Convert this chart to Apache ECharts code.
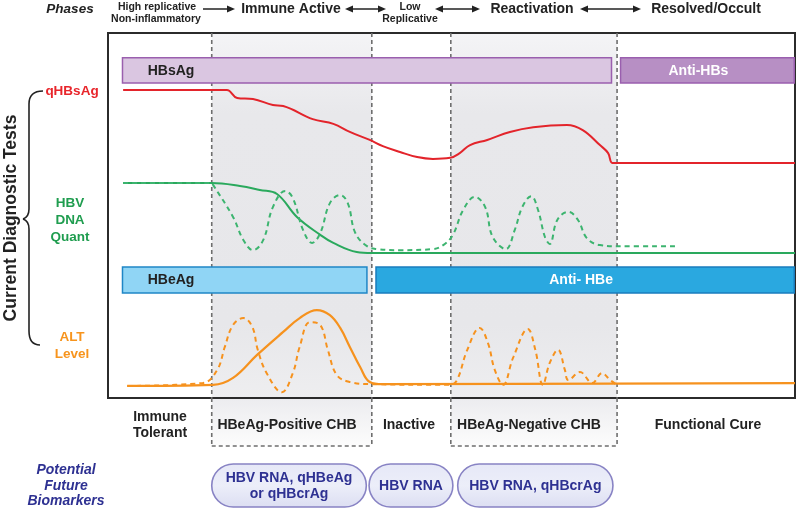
<!DOCTYPE html>
<html><head><meta charset="utf-8">
<script src="https://cdn.jsdelivr.net/npm/echarts@6/dist/echarts.min.js"></script>
<style>html,body{margin:0;padding:0;background:#fff}#c{width:800px;height:515px}</style>
</head><body><div id="c"></div>
<script>
// ---------- data (x: disease time course 0..100 across the panel, y: relative level 0..100) ----------
const phaseBoundaries = [15.1, 38.4, 49.9, 74.1];
const shadedPhases = [[15.1, 38.4], [49.9, 74.1]];

const testBarNames = ['HBsAg', 'Anti-HBs', 'HBeAg', 'Anti- HBe'];
const testBarSpans = [[2.0, 73.4, 86.3, 93.2], [74.5, 100, 86.3, 93.2], [2.0, 37.8, 28.8, 35.9], [38.9, 100, 28.8, 35.9]];

const qHBsAg = [[2.2,84.4],[15.1,84.4],[17.3,84.4],[18.8,82.2],[21.1,81.9],[24.0,80.3],[25.5,80.0],[29.8,76.4],[32.8,75.1],[35.2,72.9],[38.1,70.7],[40.0,69.0],[42.5,67.4],[45.0,66.0],[47.3,65.5],[49.8,65.8],[51.2,67.1],[52.7,69.3],[55.2,70.7],[58.5,72.9],[61.9,74.2],[66.8,74.8],[69.1,73.4],[71.6,69.3],[72.8,67.1],[73.4,64.4],[74.5,64.4],[100,64.4]];

const hbvDnaSolid = [[2.2,58.9],[15.1,58.9],[19.2,58.1],[22.1,57.0],[24.6,55.9],[27.5,49.6],[30.9,44.7],[32.8,42.5],[36.2,40.0],[38.4,39.7],[100,39.7]];

const hbvDnaDashed = [[2.2,58.9],[15.1,58.9],[15.3,58.4],[18.2,49.6],[19.7,43.3],[21.1,40.5],[22.6,43.3],[24.0,52.3],[25.8,56.7],[26.9,54.8],[28.4,46.0],[29.7,42.5],[30.9,45.2],[32.3,53.4],[33.8,55.6],[34.9,53.4],[36.0,45.2],[37.7,41.6],[39.2,40.8],[42.5,40.5],[47.3,40.8],[48.8,41.9],[50.2,44.7],[51.7,51.5],[53.4,55.1],[54.9,52.3],[56.0,44.1],[57.9,40.8],[59.2,46.0],[60.3,52.3],[61.6,55.3],[62.6,51.5],[63.6,44.1],[64.3,42.2],[65.4,48.8],[67.0,51.0],[68.4,48.8],[69.7,43.8],[71.6,41.9],[74.1,41.6],[82.8,41.6]];

const altSolid = [[2.8,3.3],[15.3,3.6],[18.2,5.5],[21.7,11.8],[25.5,18.1],[27.9,21.9],[30.4,24.1],[32.3,22.7],[33.8,19.2],[35.2,14.0],[36.7,8.5],[38.1,4.4],[40.0,3.8],[100,4.1]];

const altDashed = [[2.8,3.3],[13.8,4.1],[15.9,7.7],[17.0,14.0],[18.2,20.0],[19.7,21.9],[21.0,19.5],[21.8,13.2],[23.1,6.8],[25.3,1.6],[26.9,6.8],[27.9,14.0],[29.4,20.8],[30.9,20.0],[32.0,13.2],[33.3,6.3],[35.2,4.4],[38.4,3.8],[49.8,3.6],[50.8,4.9],[52.3,13.2],[54.1,19.2],[55.3,15.1],[56.3,7.7],[57.5,3.6],[59.0,11.2],[61.1,18.9],[62.2,13.2],[63.3,3.6],[64.3,9.6],[65.5,13.2],[66.5,7.7],[67.0,4.9],[68.7,7.1],[70.5,4.1],[71.9,6.8],[73.1,4.9],[74.1,3.6]];

const biomarkerTexts = ['HBV RNA, qHBeAg\nor qHBcrAg', 'HBV RNA', 'HBV RNA, qHBcrAg'];
const biomarkerSpans = [[15.1, 37.6], [38.0, 50.2], [50.9, 73.5]];

// ---------- styles ----------
const FF = '"Liberation Sans", Arial, Helvetica, sans-serif';
const barStyles = [
  {fill:'#dac6e1', stroke:'#9a5fae', color:'#222', align:'left'},
  {fill:'#b78fc4', stroke:'#9a5fae', color:'#fff', align:'center', dx:-9},
  {fill:'#90d5f5', stroke:'#1f86c6', color:'#222', align:'left'},
  {fill:'#2aa8e0', stroke:'#1a7cbd', color:'#fff', align:'center', dx:-4}
];
const RED = '#e3242b', GREEN = '#2aa95d', GREEN_D = '#3cb46f', ORANGE = '#f6921e', NAVY = '#2e3192';

const chart = echarts.init(document.getElementById('c'), null, {renderer:'canvas'});

function linGrad(stops) {
  return {type:'linear', x:0, y:0, x2:0, y2:1, colorStops:stops, global:false};
}
function renderBar(params, api) {
  const i = params.dataIndex;
  const p0 = api.coord([api.value(0), api.value(3)]);
  const p1 = api.coord([api.value(1), api.value(2)]);
  const st = barStyles[i];
  const w = p1[0] - p0[0], h = p1[1] - p0[1];
  const tx = st.align === 'left' ? p0[0] + 26 : p0[0] + w / 2 + st.dx;
  return {type:'group', children:[
    {type:'rect', shape:{x:p0[0] + 0.75, y:p0[1], width:w - 1.5, height:h}, style:{fill:st.fill, stroke:st.stroke, lineWidth:1.5}},
    {type:'text', style:{text:testBarNames[i], x:tx, y:p0[1] + h / 2 + 0.5, fill:st.color, font:'bold 14px ' + FF, align:st.align, verticalAlign:'middle', textAlign:st.align, textVerticalAlign:'middle'}}
  ]};
}
const mainShade = linGrad([
  {offset:0, color:'#f4f4f6'}, {offset:0.22, color:'#e8e8eb'}, {offset:0.8, color:'#e7e7ea'}, {offset:1, color:'#eeeef0'}]);
const lowShade = linGrad([
  {offset:0, color:'#ececef'}, {offset:1, color:'#fcfcfc'}]);
function renderZone(shade, withBottom) {
  return function (params, api) {
    const a = api.coord([api.value(0), 0]);
    const b = api.coord([api.value(1), 0]);
    const cs = params.coordSys;
    const ch = [{type:'rect', shape:{x:a[0], y:cs.y + 1, width:b[0] - a[0], height:cs.height - 2}, style:{fill:shade}}];
    if (withBottom) ch.push({type:'line', shape:{x1:a[0], y1:cs.y + cs.height, x2:b[0], y2:cs.y + cs.height}, style:{stroke:'#6e6e6e', lineWidth:1.6, lineDash:[4, 3]}});
    return {type:'group', children:ch};
  };
}
function renderBoundary(params, api) {
  const a = api.coord([api.value(0), 0]);
  const cs = params.coordSys;
  return {type:'line', shape:{x1:a[0], y1:cs.y, x2:a[0], y2:cs.y + cs.height}, style:{stroke:'#6e6e6e', lineWidth:1.6, lineDash:[4, 3]}};
}
function renderPill(params, api) {
  const i = params.dataIndex;
  const a = api.coord([api.value(0), 0]);
  const b = api.coord([api.value(1), 0]);
  const cs = params.coordSys;
  const w = b[0] - a[0];
  return {type:'group', children:[
    {type:'rect', shape:{x:a[0], y:cs.y, width:w, height:cs.height, r:cs.height / 2},
     style:{fill:linGrad([{offset:0, color:'#e6e8f7'}, {offset:0.5, color:'#eceef9'}, {offset:1, color:'#dcdef2'}]), stroke:'#8883c4', lineWidth:1.6}},
    {type:'text', style:{text:biomarkerTexts[i], x:a[0] + w / 2, y:cs.y + cs.height / 2 + 1, fill:NAVY, font:'bold 14px ' + FF, lineHeight:16, align:'center', verticalAlign:'middle', textAlign:'center', textVerticalAlign:'middle'}}
  ]};
}
function lineSeries(name, data, color, dashed, width) {
  return {type:'line', name, data, xAxisIndex:0, yAxisIndex:0, symbol:'none', showSymbol:false, smooth:0.4, z:5, silent:true,
    lineStyle:{color, width, type:dashed ? [5, 4] : 'solid'}};
}

function txt(x, y, text, size, color, o) {
  o = o || {};
  return {type:'text', x, y, rotation:o.rot || 0, z:100, silent:true,
    style:{text, fill:color, font:(o.italic ? 'italic ' : '') + 'bold ' + size + 'px ' + FF, lineHeight:o.lh || size + 2,
      align:'center', verticalAlign:'middle', textAlign:'center', textVerticalAlign:'middle'}};
}
function arrow(x1, x2, y, both) {
  const els = [{type:'line', z:100, shape:{x1:x1 + (both ? 4 : 0), y1:y, x2:x2 - 4, y2:y}, style:{stroke:'#222', lineWidth:1.5}}];
  els.push({type:'polygon', z:100, shape:{points:[[x2, y], [x2 - 8, y - 3.6], [x2 - 8, y + 3.6]]}, style:{fill:'#222'}});
  if (both) els.push({type:'polygon', z:100, shape:{points:[[x1, y], [x1 + 8, y - 3.6], [x1 + 8, y + 3.6]]}, style:{fill:'#222'}});
  return els;
}
const braceStyle = {stroke:'#222', lineWidth:1.6, fill:null};
const brace = [
  {type:'bezierCurve', z:100, shape:{x1:43, y1:91, x2:29, y2:104, cpx1:29, cpy1:91}, style:braceStyle},
  {type:'line', z:100, shape:{x1:29, y1:104, x2:29, y2:209}, style:braceStyle},
  {type:'bezierCurve', z:100, shape:{x1:29, y1:209, x2:23, y2:219, cpx1:29, cpy1:217}, style:braceStyle},
  {type:'bezierCurve', z:100, shape:{x1:23, y1:219, x2:29, y2:229, cpx1:29, cpy1:221}, style:braceStyle},
  {type:'line', z:100, shape:{x1:29, y1:229, x2:29, y2:331}, style:braceStyle},
  {type:'bezierCurve', z:100, shape:{x1:29, y1:331, x2:40, y2:345, cpx1:29, cpy1:345}, style:braceStyle}
];

const graphics = [].concat(
  [txt(70, 9, 'Phases', 13.5, '#222', {italic:true}),
   txt(157, 7, 'High replicative', 10.5, '#222'),
   txt(156, 19, 'Non-inflammatory', 10.5, '#222')],
  arrow(203, 235, 9, false),
  [txt(291, 9, 'Immune Active', 14, '#222')],
  arrow(345, 386, 9, true),
  [txt(410, 7, 'Low', 10.5, '#222'), txt(410, 19, 'Replicative', 10.5, '#222')],
  arrow(435, 480, 9, true),
  [txt(532, 9, 'Reactivation', 14, '#222')],
  arrow(580, 641, 9, true),
  [txt(706, 9, 'Resolved/Occult', 14, '#222'),
   txt(72, 91, 'qHBsAg', 13.5, '#e8252b'),
   txt(70, 220, 'HBV\nDNA\nQuant', 13.5, '#1f9d4f', {lh:17}),
   txt(72, 346, 'ALT\nLevel', 13.5, '#f7941d', {lh:17}),
   txt(11, 218, 'Current Diagnostic Tests', 17.5, '#222', {rot:Math.PI / 2})],
  brace,
  [txt(160, 425, 'Immune\nTolerant', 14, '#222', {lh:16}),
   txt(287, 425, 'HBeAg-Positive CHB', 14, '#222'),
   txt(409, 425, 'Inactive', 14, '#222'),
   txt(529, 425, 'HBeAg-Negative CHB', 14, '#222'),
   txt(708, 425, 'Functional Cure', 14, '#222'),
   txt(66, 486, 'Potential\nFuture\nBiomarkers', 14, NAVY, {italic:true, lh:15.5})]
);

const option = {
  animation:false,
  backgroundColor:'#fff',
  grid:[
    {left:108, right:5, top:33, bottom:117, show:true, borderColor:'#2b2b2b', borderWidth:2, backgroundColor:'rgba(0,0,0,0)'},
    {left:108, right:5, top:398, bottom:69},
    {left:108, right:5, top:464, bottom:8}
  ],
  xAxis:[0, 1, 2].map(i => ({type:'value', gridIndex:i, min:0, max:100, show:false})),
  yAxis:[
    {type:'value', gridIndex:0, min:0, max:100, show:false},
    {type:'value', gridIndex:1, min:0, max:1, show:false},
    {type:'value', gridIndex:2, min:0, max:1, show:false}
  ],
  series:[
    {type:'custom', name:'zones', xAxisIndex:0, yAxisIndex:0, z:1, silent:true, renderItem:renderZone(mainShade, false), data:shadedPhases.map(s => [s[0], s[1]])},
    {type:'custom', name:'zonesLow', xAxisIndex:1, yAxisIndex:1, z:1, silent:true, renderItem:renderZone(lowShade, true), data:shadedPhases.map(s => [s[0], s[1]])},
    {type:'custom', name:'bounds', xAxisIndex:0, yAxisIndex:0, z:2, silent:true, renderItem:renderBoundary, data:phaseBoundaries.map(v => [v, 0])},
    {type:'custom', name:'boundsLow', xAxisIndex:1, yAxisIndex:1, z:2, silent:true, renderItem:renderBoundary, data:phaseBoundaries.map(v => [v, 0])},
    {type:'custom', name:'tests', xAxisIndex:0, yAxisIndex:0, z:3, silent:true, renderItem:renderBar, data:testBarSpans},
    lineSeries('qHBsAg', qHBsAg, RED, false, 2),
    lineSeries('HBV DNA', hbvDnaSolid, GREEN, false, 2),
    lineSeries('HBV DNA flare', hbvDnaDashed, GREEN_D, true, 2),
    lineSeries('ALT', altSolid, ORANGE, false, 2.2),
    lineSeries('ALT flare', altDashed, ORANGE, true, 2),
    {type:'custom', name:'biomarkers', xAxisIndex:2, yAxisIndex:2, z:3, silent:true, renderItem:renderPill, data:biomarkerSpans}
  ],
  graphic:graphics
};
chart.setOption(option);
</script></body></html>
